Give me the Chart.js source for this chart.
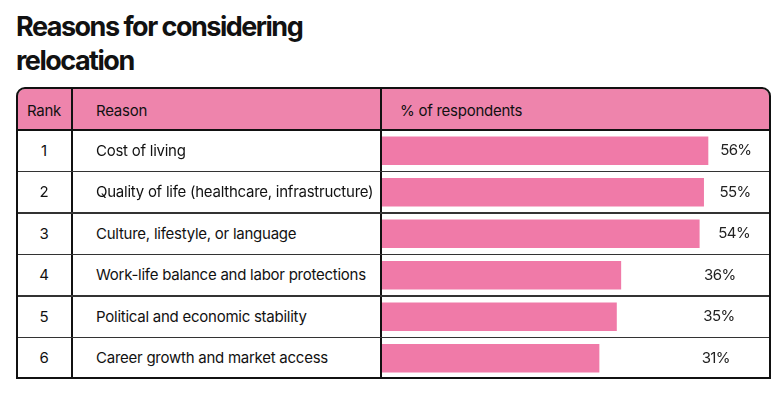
<!DOCTYPE html>
<html>
<head>
<meta charset="utf-8">
<script src="https://cdn.jsdelivr.net/npm/chart.js@4.4.1/dist/chart.umd.min.js"></script>
<style>
html, body { margin: 0; padding: 0; background: #fff; width: 783px; height: 396px; overflow: hidden; }
body { position: relative; font-family: Inter, "Noto Sans", sans-serif; color: #111; }
#title { position: absolute; left: 16px; top: 10px; font-weight: 700; font-size: 27px; line-height: 34px; letter-spacing: -1.5px; }
#frame { position: absolute; left: 16px; top: 87px; width: 755px; height: 292px; box-sizing: border-box;
         border: 2px solid #111; border-radius: 9px 9px 0 0; }
#head { position: absolute; left: 18px; top: 89px; width: 751px; height: 41px; background: #ee84ac; border-radius: 7px 7px 0 0; }
.vline { position: absolute; top: 88px; width: 2px; height: 290px; background: #111; }
.hline { position: absolute; left: 18px; width: 751px; background: #333; }
.txt { position: absolute; font-size: 15px; letter-spacing: -0.25px; line-height: 20px; white-space: nowrap; }
.rank { width: 56px; text-align: center; left: 16px; }
#bars { position: absolute; left: 382px; top: 130px; }
</style>
</head>
<body>
<div id="title">Reasons for considering<br>relocation</div>
<div id="head"></div>
<div id="frame"></div>
<canvas id="bars" width="387" height="249"></canvas>
<script>
// data
var headers = ['Rank', 'Reason', '% of respondents'];
var ranks = [1, 2, 3, 4, 5, 6];
var reasons = [
    'Cost of living',
    'Quality of life (healthcare, infrastructure)',
    'Culture, lifestyle, or language',
    'Work-life balance and labor protections',
    'Political and economic stability',
    'Career growth and market access'
];
var shares = [56, 55, 54, 36, 35, 31];

// the source bars are not drawn from zero, so the axis starts below it
var X_MIN = -18.8;
var X_MAX = 70;

// table grid
var rowTop = 130, rowH = 41.5;
function add(cls, css, text) {
    var d = document.createElement('div');
    d.className = cls;
    d.style.cssText = css;
    if (text !== undefined) d.textContent = text;
    document.body.appendChild(d);
    return d;
}
add('vline', 'left:71px');
add('vline', 'left:380px');
add('hline', 'top:129px;height:2px;background:#111');
for (var i = 1; i < ranks.length; i++) {
    add('hline', 'top:' + (rowTop + rowH * i - 0.75) + 'px;height:1.5px');
}

add('txt rank', 'top:101px', headers[0]);
add('txt', 'left:96px;top:101px', headers[1]);
add('txt', 'left:400px;top:101px', headers[2]);
ranks.forEach(function(r, i) {
    var y = rowTop + rowH * i + rowH / 2 - 10;
    add('txt rank', 'top:' + y + 'px', String(r));
    add('txt', 'left:96px;top:' + y + 'px', reasons[i]);
});

// value labels
var valueLabels = {
    id: 'valueLabels',
    afterDatasetsDraw: function(chart) {
        var ctx = chart.ctx;
        var meta = chart.getDatasetMeta(0);
        var area = chart.chartArea;
        ctx.save();
        ctx.font = '15px Inter, "Noto Sans", sans-serif';
        ctx.letterSpacing = '-0.6px';
        ctx.fillStyle = '#222';
        ctx.textAlign = 'center';
        ctx.textBaseline = 'middle';
        meta.data.forEach(function(bar, i) {
            var v = shares[i];
            ctx.fillText(v + '%', area.right - 78 + 0.8 * v, bar.y);
        });
        ctx.restore();
    }
};

new Chart(document.getElementById('bars'), {
    type: 'bar',
    data: {
        labels: reasons,
        datasets: [{
            label: headers[2],
            data: shares,
            base: X_MIN,
            backgroundColor: '#f07aa8',
            borderWidth: 0,
            barThickness: 28
        }]
    },
    options: {
        indexAxis: 'y',
        responsive: false,
        devicePixelRatio: 1,
        animation: false,
        layout: { padding: 0 },
        plugins: { legend: { display: false }, tooltip: { enabled: false } },
        scales: {
            x: { display: false, min: X_MIN, max: X_MAX },
            y: { display: false }
        }
    },
    plugins: [valueLabels]
});
</script>
</body>
</html>
